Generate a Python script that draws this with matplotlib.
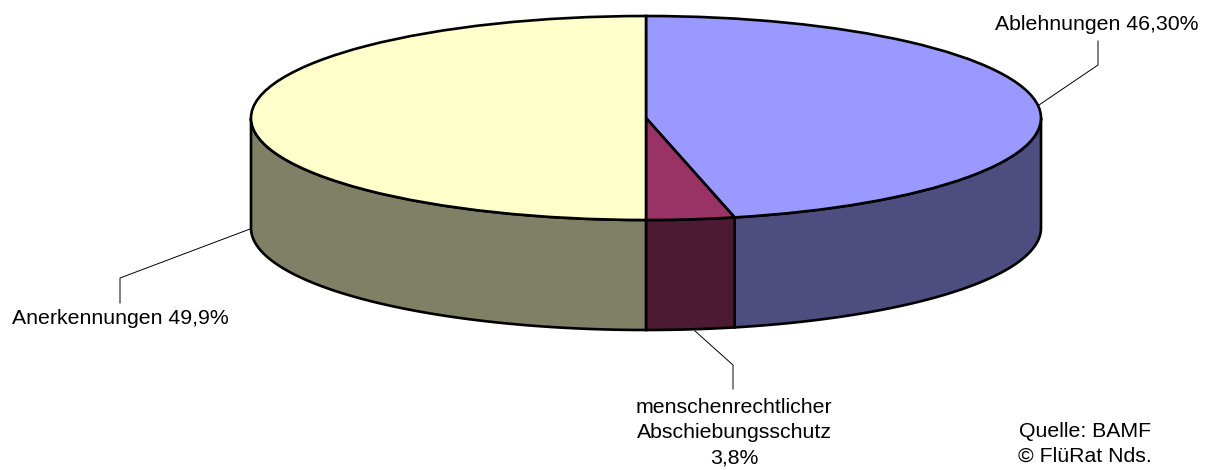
import numpy as np
import matplotlib
matplotlib.use("Agg")
import matplotlib.pyplot as plt

plt.rcParams['font.family'] = ['Liberation Sans', 'DejaVu Sans']

labels = ["Ablehnungen 46,30%", "menschenrechtlicher\nAbschiebungsschutz\n3,8%", "Anerkennungen 49,9%"]
# shares as drawn in the picture, they differ a bit from the printed labels
values = [46.4, 3.6, 50.0]
top_colors = ["#9999FF", "#993366", "#FFFFCC"]
side_colors = ["#4D4D80", "#4D1A33", "#808066"]
source = "Quelle: BAMF\n© FlüRat Nds."

W, H = 1210, 470
CX, CY, RX, RY = 646, 118, 395, 102
DEPTH = 110 / RY

fig = plt.figure(figsize=(W / 100, H / 100), dpi=100)
ax = fig.add_axes([0, 0, 1, 1])

# side walls first, only the front half of the pie is visible
start = 0.0
total = sum(values)
for val, col in zip(values, side_colors):
    end = start + val / total * 360
    a0, a1 = max(start, 90), min(end, 270)
    if a1 > a0:
        t = np.radians(np.linspace(a0, a1, 100))
        x = np.sin(t)
        y = np.cos(t)
        ax.fill(np.r_[x, x[::-1]], np.r_[y, y[::-1] - DEPTH],
                facecolor=col, edgecolor="black", linewidth=1.9, zorder=1)
    start = end

ax.pie(values, colors=top_colors, startangle=90, counterclock=False, radius=1,
       wedgeprops=dict(edgecolor="black", linewidth=1.9, zorder=2))

# pie() forces an equal aspect, stretch it to the ellipse afterwards
ax.set_aspect("auto")
ax.set_xlim(-CX / RX, (W - CX) / RX)
ax.set_ylim(-(H - CY) / RY, CY / RY)
ax.axis("off")


def px(x, y):
    return (x - CX) / RX, (CY - y) / RY


def leader(xs, ys):
    p = [px(a, b) for a, b in zip(xs, ys)]
    ax.plot([q[0] for q in p], [q[1] for q in p], color="black", lw=0.7, zorder=3, clip_on=False)


leader([1039, 1098, 1098], [105, 65, 41])
leader([250, 120, 120], [229, 278, 303])
leader([695, 733, 733], [331, 365, 389])

fs = 15.35
ax.text(*px(1097, 24), labels[0], fontsize=fs, ha="center", va="center")
ax.text(*px(120, 318), labels[2], fontsize=fs, ha="center", va="center")
ax.text(*px(734, 433), labels[1], fontsize=fs, ha="center", va="center", linespacing=1.43)
ax.text(*px(1085, 444), source, fontsize=fs, ha="center", va="center", linespacing=1.43)

fig.savefig("out.png", dpi=100)
